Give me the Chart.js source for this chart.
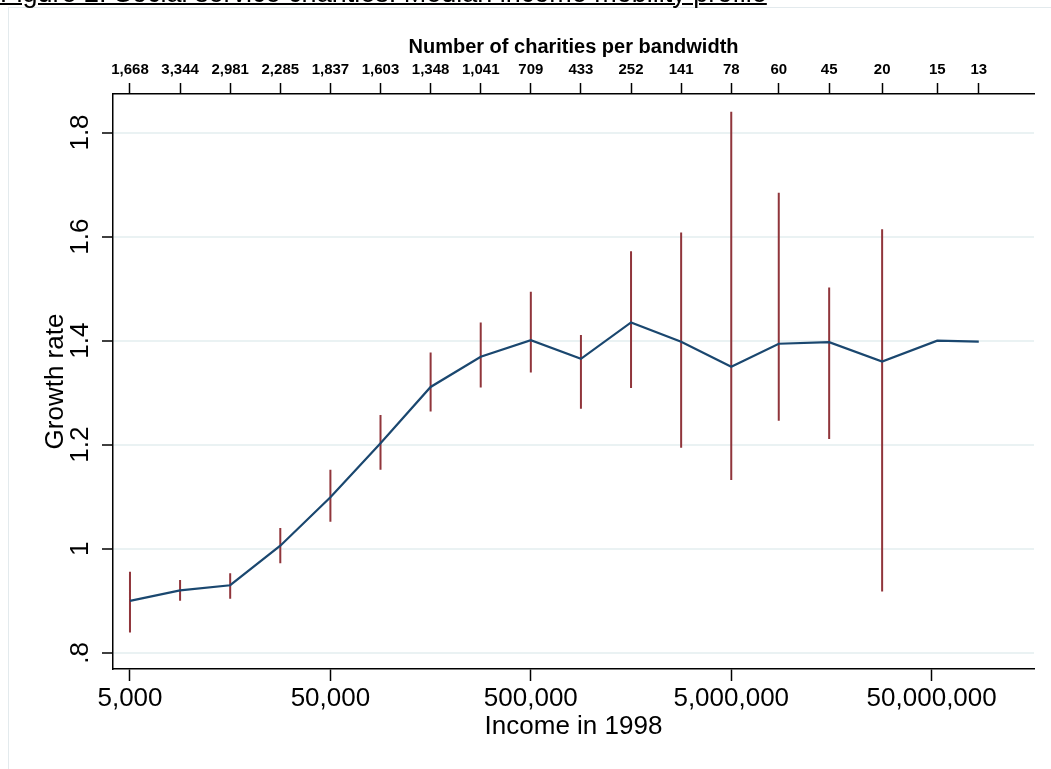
<!DOCTYPE html>
<html>
<head>
<meta charset="utf-8">
<script src="https://cdn.jsdelivr.net/npm/chart.js@4"></script>
<style>
  body { margin: 0; background: #fff; overflow: hidden; }
  #wrap { position: relative; width: 1051px; height: 769px; overflow: hidden; }
  #frame { position: absolute; left: 8px; top: 7px; width: 1100px; height: 800px;
           border-left: 1px solid #e3eaed; border-top: 1px solid #e3eaed; }
  #caption { position: absolute; left: 0; top: -20px; font: 27px 'Liberation Sans', Arial, sans-serif;
             line-height: 27px; white-space: nowrap; text-decoration: underline;
             text-decoration-thickness: 2px; color: #000; }
  canvas { position: absolute; left: 0; top: 0; }
</style>
</head>
<body>
<div id="wrap">
  <div id="frame"></div>
  <canvas id="chart" width="1051" height="769"></canvas>
  <div id="caption">Figure 2: Social service charities: Median income mobility profile</div>
</div>
<script>
// Data
const income = [5000, 8891, 15811, 28117, 50000, 88914, 158114, 281171, 500000, 889140,
                1581139, 2811707, 5000000, 8630000, 15400000, 28300000, 53300000, 85900000];
const growthRate = [0.900, 0.920, 0.930, 1.006, 1.099, 1.203, 1.311, 1.369, 1.401, 1.365,
                    1.435, 1.398, 1.350, 1.394, 1.397, 1.360, 1.400, 1.398];
const ciLow = [0.839, 0.900, 0.904, 0.972, 1.052, 1.152, 1.264, 1.310, 1.339, 1.269,
               1.309, 1.194, 1.132, 1.246, 1.211, 0.918, null, null];
const ciHigh = [0.956, 0.940, 0.953, 1.040, 1.152, 1.257, 1.377, 1.435, 1.494, 1.411,
                1.572, 1.608, 1.840, 1.684, 1.502, 1.614, null, null];
const charityCounts = ['1,668', '3,344', '2,981', '2,285', '1,837', '1,603', '1,348', '1,041', '709',
                       '433', '252', '141', '78', '60', '45', '20', '15', '13'];
const incomeTicks = [5000, 50000, 500000, 5000000, 50000000];
const yTicks = [0.8, 1.0, 1.2, 1.4, 1.6, 1.8];
const yTickLabels = ['.8', '1', '1.2', '1.4', '1.6', '1.8'];

const FONT = "'Liberation Sans', Arial, sans-serif";
const navy = '#1a476f';
const maroon = '#90353b';

// error bars: one broken line, gaps between spikes
const spikes = [];
income.forEach((x, i) => {
    if (ciLow[i] == null) return;
    spikes.push({ x: x, y: ciLow[i] }, { x: x, y: ciHigh[i] }, { x: x, y: null });
});

const xMin = 4114, xMax = 162000000;

new Chart(document.getElementById('chart'), {
    type: 'line',
    data: {
        datasets: [{
            data: income.map((x, i) => ({ x: x, y: growthRate[i] })),
            borderColor: navy,
            borderWidth: 2.2,
            pointRadius: 0,
            tension: 0
        }, {
            data: spikes,
            borderColor: maroon,
            borderWidth: 2,
            pointRadius: 0,
            spanGaps: false
        }]
    },
    options: {
        responsive: false,
        animation: false,
        layout: { padding: { left: 0, right: 17, top: 0, bottom: 0 } },
        plugins: { legend: { display: false }, tooltip: { enabled: false } },
        scales: {
            x: {
                type: 'logarithmic',
                position: 'bottom',
                min: xMin, max: xMax,
                afterBuildTicks: s => { s.ticks = incomeTicks.map(v => ({ value: v })); },
                afterFit: s => { s.height = 100; },
                ticks: {
                    autoSkip: false, maxRotation: 0, padding: 2, color: '#000',
                    font: { family: FONT, size: 26 },
                    callback: v => Number(v).toLocaleString('en-US')
                },
                grid: { drawOnChartArea: false, tickLength: 12, tickColor: '#000', tickWidth: 1.5 },
                border: { color: '#000', width: 1.5 },
                title: {
                    display: true, text: 'Income in 1998', color: '#000',
                    font: { family: FONT, size: 26 }, padding: { top: 0, bottom: 27 }
                }
            },
            x2: {
                type: 'logarithmic',
                position: 'top',
                min: xMin, max: xMax,
                afterBuildTicks: s => { s.ticks = income.map(v => ({ value: v })); },
                afterFit: s => { s.height = 94; },
                ticks: {
                    autoSkip: false, maxRotation: 0, padding: 4, color: '#000',
                    font: { family: FONT, size: 15, weight: 'bold' },
                    callback: (v, i) => charityCounts[i]
                },
                grid: { drawOnChartArea: false, tickLength: 11, tickColor: '#000', tickWidth: 1.5 },
                border: { color: '#000', width: 1.5 },
                title: {
                    display: true, text: 'Number of charities per bandwidth', color: '#000',
                    font: { family: FONT, size: 20, weight: 'bold' }, padding: { top: 35, bottom: 0 }
                }
            },
            y: {
                type: 'linear',
                min: 0.769, max: 1.874,
                afterBuildTicks: s => { s.ticks = yTicks.map(v => ({ value: v })); },
                afterFit: s => { s.width = 113; },
                ticks: {
                    minRotation: 90, maxRotation: 90, crossAlign: 'center', padding: 3, color: '#000',
                    font: { family: FONT, size: 26 },
                    callback: (v, i) => yTickLabels[i]
                },
                grid: { color: '#eaf2f3', lineWidth: 2, tickLength: 11, tickColor: '#000', tickWidth: 1.5 },
                border: { color: '#000', width: 1.5 },
                title: {
                    display: true, text: 'Growth rate', color: '#000',
                    font: { family: FONT, size: 26 }, padding: { top: 40, bottom: 0 }
                }
            }
        }
    }
});
</script>
</body>
</html>
